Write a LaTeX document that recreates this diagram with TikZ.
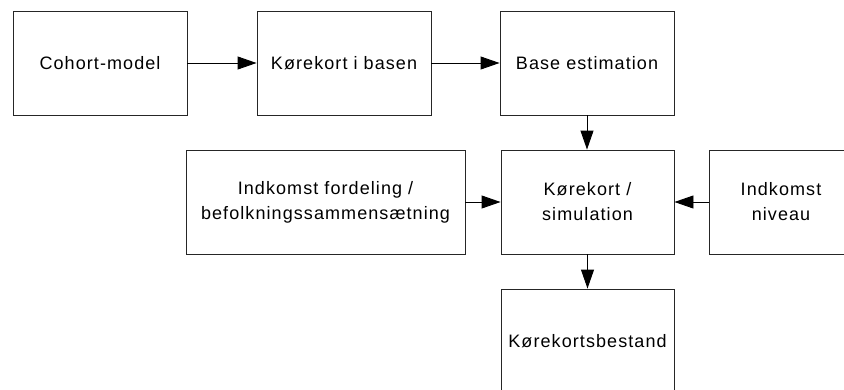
\documentclass[tikz,border=0pt]{standalone}
\usepackage{fontspec}
\setmainfont{Liberation Sans}[LetterSpace=6]
\usetikzlibrary{arrows.meta}
\begin{document}
\begin{tikzpicture}[x=1bp,y=-1bp,
  box/.style={draw=black!85, line width=0.9bp, rectangle, inner sep=0pt,
    minimum height=104bp, align=center,
    font=\fontsize{18bp}{25bp}\selectfont},
  conn/.style={draw=black, line width=0.9bp, -{Triangle[length=19bp,width=13bp]}}]
\useasboundingbox (0,0) rectangle (844,389);
\node[box, minimum width=174bp] (cohort) at (100,63) {Cohort-model};
\node[box, minimum width=174bp] (basen) at (344,63) {Kørekort i basen};
\node[box, minimum width=174bp] (base) at (587,63) {Base estimation};
\node[box, minimum width=279bp] (ford) at (325.5,202) {Indkomst fordeling /\\befolkningssammensætning};
\node[box, minimum width=173bp] (sim) at (587.5,202) {Kørekort /\\simulation};
\node[box, minimum width=144bp] (niv) at (781,202) {Indkomst\\niveau};
\node[box, minimum width=173bp] (best) at (587.5,341) {Kørekortsbestand};
\draw[conn] (cohort) -- (basen);
\draw[conn] (basen) -- (base);
\draw[conn] (base) -- (base |- sim.north);
\draw[conn] (ford) -- (sim);
\draw[conn] (niv) -- (sim);
\draw[conn] (sim.south -| best) -- (best);
\end{tikzpicture}
\end{document}
